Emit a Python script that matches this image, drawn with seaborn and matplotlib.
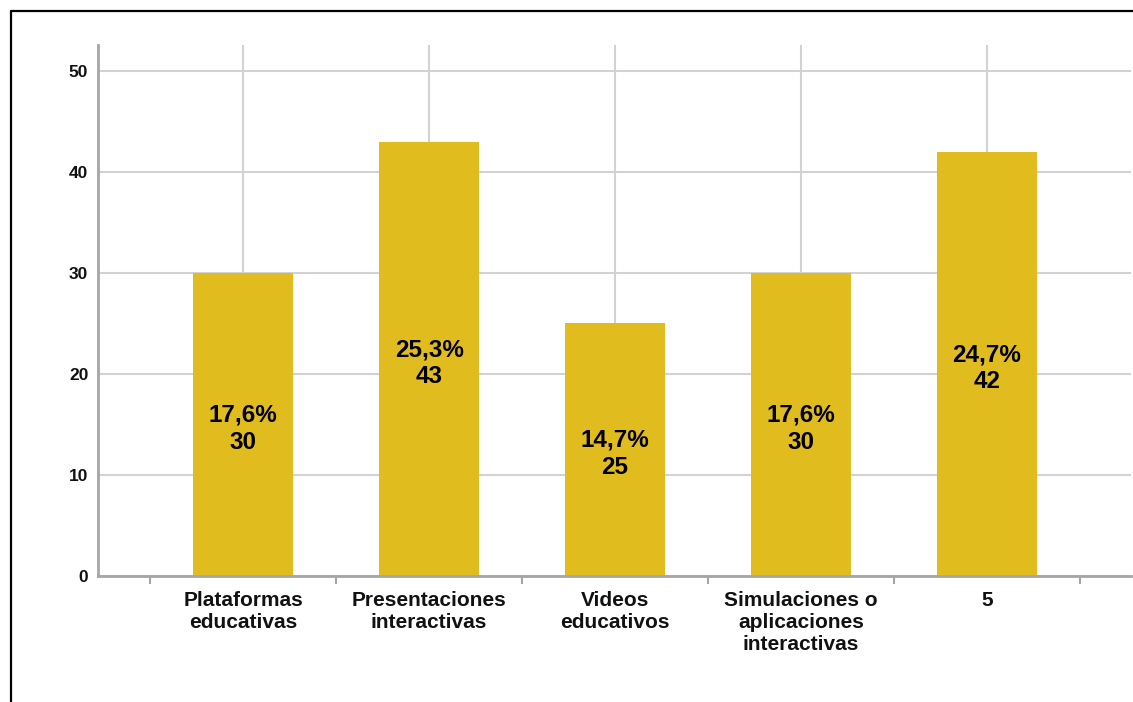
import matplotlib
matplotlib.use("Agg")
import matplotlib.pyplot as plt
from matplotlib.lines import Line2D
from matplotlib.ticker import FixedLocator
import seaborn as sns
import pandas as pd

# Counts per resource type
categories = [
    "Plataformas\neducativas",
    "Presentaciones\ninteractivas",
    "Videos\neducativos",
    "Simulaciones o\naplicaciones\ninteractivas",
    "5",
]
counts = [30, 43, 25, 30, 42]
y_ticks = [0, 10, 20, 30, 40, 50]

bar_color = "#E1BC1F"
grid_color = "#D2D2D2"
spine_color = "#A6A6A6"

sns.set_style("white")
plt.rcParams["font.family"] = ["Liberation Sans", "DejaVu Sans"]

df = pd.DataFrame({"categoria": categories, "n": counts})
total = sum(counts)

fig = plt.figure(figsize=(11.33, 7.02), dpi=100)
ax = fig.add_axes([98 / 1133, 1 - 576 / 702, (1131 - 98) / 1133, (576 - 45) / 702])

sns.barplot(data=df, x="categoria", y="n", color=bar_color, width=0.54,
            saturation=1, ax=ax, zorder=3, edgecolor="none", linewidth=0)

ax.set_xlim(-0.78, 4.774)
ax.set_ylim(0, 52.57)
ax.set_yticks(y_ticks)
ax.set_yticklabels([str(t) for t in y_ticks], fontsize=12.5, fontweight="bold")
ax.set_xlabel("")
ax.set_ylabel("")

# Category boundary ticks below the axis
ax.xaxis.set_minor_locator(FixedLocator([i - 0.5 for i in range(len(categories) + 1)]))
ax.tick_params(axis="x", which="minor", length=6, width=1.5, color=spine_color, bottom=True)
ax.tick_params(axis="x", which="major", length=0, pad=11)
ax.tick_params(axis="y", which="both", length=0, pad=7)
for lab in ax.get_xticklabels():
    lab.set_fontsize(15)
    lab.set_fontweight("bold")
    lab.set_linespacing(1.18)
    lab.set_color("#111111")
for lab in ax.get_yticklabels():
    lab.set_color("#111111")

ax.grid(True, which="major", axis="both", color=grid_color, linewidth=1.5, zorder=0)
ax.set_axisbelow(True)

for side in ("top", "right"):
    ax.spines[side].set_visible(False)
for side in ("left", "bottom"):
    ax.spines[side].set_color(spine_color)
    ax.spines[side].set_linewidth(2)
    ax.spines[side].set_zorder(4)

# Percentage and count inside each bar
for i, n in enumerate(counts):
    pct = f"{100 * n / total:.1f}".replace(".", ",")
    ax.annotate(f"{pct}%\n{n}", xy=(i, n / 2), xytext=(0, -3),
                textcoords="offset points", ha="center", va="center",
                fontsize=17.5, fontweight="bold", linespacing=1.22,
                color="black", zorder=5)

# Outer frame
fig.add_artist(Line2D([11 / 1133, 1], [1 - 11 / 702, 1 - 11 / 702],
                      transform=fig.transFigure, color="black", linewidth=1.6))
fig.add_artist(Line2D([11 / 1133, 11 / 1133], [0, 1 - 11 / 702],
                      transform=fig.transFigure, color="black", linewidth=1.6))

fig.savefig("out.png", dpi=100, facecolor="white")
